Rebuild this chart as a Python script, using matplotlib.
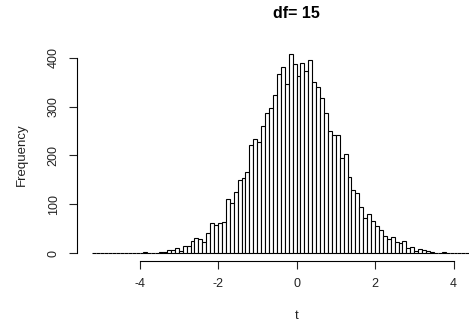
import numpy as np
import matplotlib
matplotlib.use("Agg")
import matplotlib.pyplot as plt

plt.rcParams["font.family"] = ["Liberation Sans", "DejaVu Sans"]

# histogram of simulated t values, breaks every 0.1 starting at -5.2
break_start = -5.2
bin_width = 0.1
counts = [
    1, 0, 0, 0, 0, 0, 0, 0, 0, 0,          # -5.2 .. -4.3
    1, 1, 1, 2, 1, 1, 1, 2, 2, 7,          # -4.2 .. -3.3
    6, 11, 4, 15, 15, 25, 30, 28, 23, 42,  # -3.2 .. -2.3
    61, 57, 62, 64, 110, 103, 126, 150, 153, 167,   # -2.2 .. -1.3
    222, 234, 227, 260, 286, 297, 323, 366, 382, 347,  # -1.2 .. -0.3
    408, 387, 362, 389, 374, 395, 351, 340, 318, 286,  # -0.2 .. 0.7
    250, 242, 241, 195, 204, 155, 129, 124, 95, 71,    # 0.8 .. 1.7
    81, 65, 56, 47, 35, 28, 32, 22, 20, 25,            # 1.8 .. 2.7
    11, 12, 5, 8, 6, 4, 3, 1, 1, 2,                    # 2.8 .. 3.7
    1, 0, 0, 1, 0, 0, 0, 0, 0, 0,                      # 3.8 .. 4.7
    0, 0, 0, 0,                                        # 4.8 .. 5.1
]
x_ticks = [-4, -2, 0, 2, 4]
y_ticks = [0, 100, 200, 300, 400]
title = "df= 15"

edges = break_start + bin_width * np.arange(len(counts))

W, H = 469, 324
fig = plt.figure(figsize=(W / 100, H / 100), dpi=100)
# plot region in pixels (right side runs off the image like the original)
left_px, top_px, bottom_px = 77, 46, 261
ax = fig.add_axes([left_px / W, 1 - bottom_px / H, 1 - left_px / W, (bottom_px - top_px) / H])

ax.bar(edges, counts, width=bin_width, align="edge", facecolor="white",
       edgecolor="black", linewidth=0.8)

ax.set_xlim((left_px - 296.5) / 39.25, (W - 296.5) / 39.25)
ymax = max(counts)
ax.set_ylim(-0.04 * ymax, 1.04 * ymax)

for s in ["top", "right"]:
    ax.spines[s].set_visible(False)
ax.spines["left"].set_bounds(0, 400)
ax.spines["bottom"].set_bounds(-4, 4)
ax.spines["left"].set_linewidth(0.8)
ax.spines["bottom"].set_linewidth(0.8)

ax.set_xticks(x_ticks)
ax.set_xticklabels([str(v) for v in x_ticks])
ax.set_yticks(y_ticks)
ax.set_yticklabels([str(v) for v in y_ticks], rotation=90, va="center")
ax.tick_params(axis="both", length=5.5, width=0.8, labelsize=9, color="#222222",
               labelcolor="#222222")
ax.tick_params(axis="x", pad=7)
ax.tick_params(axis="y", pad=7)

fig.text(296.5 / W, 1 - 316 / H, "t", ha="center", va="center", fontsize=9.5, color="#222222")
fig.text(21.5 / W, 1 - 155 / H, "Frequency", ha="center", va="center", rotation=90,
         fontsize=9.5, color="#222222")
fig.text(296 / W, 1 - 13 / H, title, ha="center", va="center", fontsize=11.5,
         fontweight="bold")

fig.savefig("out.png", dpi=100)
